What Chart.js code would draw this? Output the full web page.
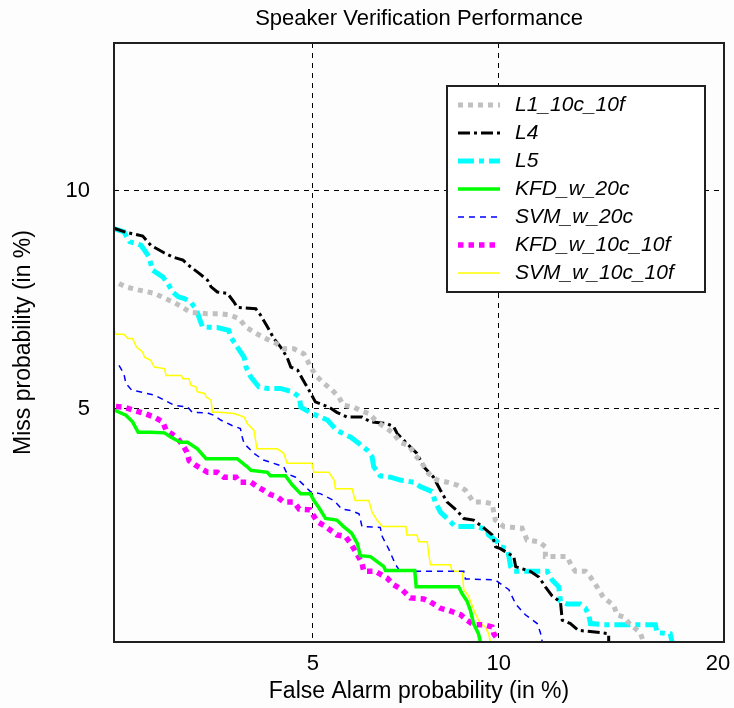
<!DOCTYPE html>
<html>
<head>
<meta charset="utf-8">
<title>Speaker Verification Performance</title>
<script src="https://cdn.jsdelivr.net/npm/chart.js@4.4.1/dist/chart.umd.min.js"></script>
<style>
  html, body { margin: 0; padding: 0; background: #fdfdfd; }
  #wrap { width: 734px; height: 708px; }
</style>
</head>
<body>
<div id="wrap"><canvas id="det" width="734" height="708"></canvas></div>
<script>
// DET curve data, in % (false alarm, miss)
const xTicks = [5, 10, 20];
const yTicks = [5, 10];
const xRange = [2.1, 20];
const yRange = [2.1, 15.03];

const seriesNames = ['L1_10c_10f', 'L4', 'L5', 'KFD_w_20c', 'SVM_w_20c', 'KFD_w_10c_10f', 'SVM_w_10c_10f'];

const l1 = [[2.15,7.55],[2.22,7.47],[2.35,7.4],[2.53,7.32],[2.65,7.21],[2.78,7.1],[2.9,6.97],[2.98,6.89],[3.2,6.86],[3.39,6.86],[3.54,6.83],[3.68,6.75],[3.79,6.57],[3.92,6.46],[4.12,6.33],[4.3,6.23],[4.44,6.12],[4.63,6.12],[4.82,6.02],[4.89,5.89],[4.95,5.76],[5.09,5.57],[5.23,5.45],[5.4,5.33],[5.54,5.21],[5.65,5.06],[5.88,5.03],[6.03,4.97],[6.23,4.92],[6.39,4.81],[6.56,4.72],[6.68,4.67],[6.85,4.59],[7.02,4.45],[7.25,4.4],[7.43,4.25],[7.61,4.13],[7.8,3.98],[8.04,3.89],[8.34,3.86],[8.64,3.82],[8.9,3.75],[9.16,3.59],[9.49,3.59],[9.77,3.57],[9.88,3.36],[10.17,3.28],[10.82,3.26],[11.0,3.12],[11.44,3.1],[11.69,3.04],[11.69,2.93],[12.54,2.93],[12.74,2.82],[12.88,2.77],[13.3,2.77],[13.51,2.71],[13.79,2.61],[14.08,2.5],[14.52,2.43],[14.67,2.34],[14.97,2.32],[15.28,2.25],[15.74,2.18],[15.89,2.1]];

const l4 = [[2.1,8.95],[2.22,8.84],[2.4,8.74],[2.49,8.5],[2.65,8.3],[2.75,8.2],[2.88,8.12],[2.98,7.95],[3.09,7.8],[3.21,7.63],[3.26,7.47],[3.35,7.35],[3.5,7.32],[3.6,7.12],[3.65,7.0],[3.95,6.97],[4.03,6.83],[4.15,6.57],[4.26,6.33],[4.38,6.16],[4.5,5.95],[4.57,5.76],[4.7,5.7],[4.79,5.54],[4.92,5.33],[5.05,5.12],[5.33,5.03],[5.5,4.94],[5.73,4.86],[6.07,4.86],[6.27,4.78],[6.68,4.75],[6.85,4.7],[6.94,4.59],[7.2,4.43],[7.47,4.28],[7.66,4.08],[7.94,3.93],[8.14,3.75],[8.34,3.59],[8.64,3.48],[8.85,3.38],[9.16,3.36],[9.44,3.28],[9.77,3.18],[9.89,3.04],[10.05,3.02],[10.52,2.93],[10.59,2.82],[11.12,2.77],[11.44,2.71],[11.69,2.61],[11.95,2.52],[12.28,2.46],[12.35,2.29],[12.68,2.26],[13.0,2.2],[13.93,2.18],[14.3,2.17],[14.3,2.1]];

const l5 = [[2.1,8.94],[2.2,8.85],[2.26,8.59],[2.38,8.5],[2.42,8.37],[2.47,8.2],[2.51,7.87],[2.63,7.71],[2.69,7.55],[2.75,7.35],[2.82,7.24],[2.9,7.2],[2.98,7.12],[3.05,6.97],[3.09,6.79],[3.14,6.57],[3.35,6.56],[3.52,6.5],[3.55,6.36],[3.65,6.16],[3.76,5.95],[3.79,5.76],[3.87,5.57],[4.0,5.39],[4.15,5.36],[4.38,5.36],[4.6,5.3],[4.73,5.21],[4.76,5.03],[4.98,4.92],[5.3,4.81],[5.5,4.64],[5.81,4.53],[6.0,4.43],[6.19,4.33],[6.31,4.23],[6.35,4.08],[6.51,3.95],[6.77,3.93],[7.02,3.89],[7.38,3.86],[7.56,3.8],[7.9,3.73],[7.99,3.59],[8.14,3.46],[8.34,3.38],[8.59,3.28],[9.27,3.28],[9.6,3.24],[9.65,3.18],[9.94,3.1],[10.05,3.04],[10.29,3.02],[10.35,2.93],[10.41,2.82],[10.52,2.77],[11.76,2.77],[11.95,2.68],[12.21,2.61],[12.28,2.47],[12.55,2.44],[13.08,2.44],[13.3,2.4],[13.44,2.34],[13.51,2.26],[14.08,2.25],[16.46,2.25],[16.54,2.18],[17.19,2.17],[17.28,2.1]];

const kfd20 = [[2.1,4.98],[2.22,4.89],[2.29,4.78],[2.35,4.61],[2.49,4.61],[2.65,4.6],[2.73,4.53],[2.85,4.45],[2.94,4.45],[3.07,4.35],[3.19,4.2],[3.65,4.2],[3.81,4.08],[3.87,4.03],[4.15,4.0],[4.2,3.95],[4.47,3.95],[4.6,3.82],[4.76,3.7],[4.95,3.7],[5.02,3.61],[5.12,3.52],[5.26,3.38],[5.5,3.36],[5.65,3.28],[5.83,3.2],[5.96,3.08],[6.03,2.94],[6.27,2.93],[6.6,2.82],[6.64,2.78],[7.41,2.78],[7.45,2.61],[8.69,2.61],[8.8,2.54],[8.95,2.47],[9.06,2.38],[9.16,2.26],[9.32,2.17],[9.38,2.1]];

const svm20 = [[2.15,5.79],[2.2,5.63],[2.22,5.45],[2.28,5.33],[2.42,5.28],[2.53,5.24],[2.65,5.15],[2.77,5.06],[2.94,5.03],[3.0,4.94],[3.21,4.93],[3.3,4.89],[3.4,4.81],[3.57,4.72],[3.7,4.67],[3.73,4.53],[3.76,4.43],[3.92,4.28],[4.08,4.18],[4.26,4.13],[4.44,4.08],[4.5,3.98],[4.66,3.93],[4.79,3.84],[4.89,3.77],[4.95,3.73],[5.16,3.7],[5.44,3.61],[5.61,3.5],[5.81,3.48],[6.0,3.44],[6.07,3.28],[6.51,3.27],[6.56,3.16],[6.74,3.0],[6.9,2.84],[7.02,2.77],[8.85,2.77],[8.9,2.69],[9.88,2.68],[10.11,2.63],[10.35,2.58],[10.59,2.44],[10.94,2.34],[11.38,2.26],[11.5,2.18],[11.57,2.1]];

const kfd1010 = [[2.12,5.04],[2.2,5.03],[2.31,4.97],[2.42,4.92],[2.53,4.86],[2.63,4.78],[2.67,4.64],[2.8,4.53],[2.88,4.4],[2.93,4.3],[2.96,4.17],[3.05,4.1],[3.21,4.0],[3.35,4.0],[3.45,3.93],[3.63,3.93],[3.68,3.86],[3.87,3.86],[3.97,3.8],[4.08,3.75],[4.2,3.69],[4.32,3.66],[4.44,3.59],[4.63,3.59],[4.73,3.5],[4.94,3.49],[5.09,3.34],[5.26,3.28],[5.5,3.18],[5.69,3.16],[5.81,3.08],[5.88,3.02],[6.07,2.86],[6.11,2.77],[6.39,2.77],[6.68,2.7],[6.85,2.63],[7.07,2.58],[7.29,2.5],[7.66,2.49],[7.85,2.46],[8.14,2.4],[8.39,2.38],[8.75,2.34],[8.95,2.29],[9.16,2.25],[9.49,2.25],[9.77,2.23],[9.83,2.17],[10.0,2.11]];

const svm1010 = [[2.1,6.53],[2.12,6.42],[2.2,6.42],[2.24,6.33],[2.29,6.33],[2.33,6.16],[2.4,6.05],[2.42,5.95],[2.49,5.89],[2.53,5.76],[2.65,5.73],[2.67,5.6],[2.86,5.6],[2.88,5.54],[2.96,5.54],[2.98,5.42],[3.05,5.39],[3.07,5.3],[3.17,5.27],[3.19,5.21],[3.26,5.15],[3.28,4.94],[3.39,4.94],[3.6,4.92],[3.76,4.86],[3.81,4.75],[3.92,4.64],[3.97,4.35],[4.32,4.35],[4.44,4.28],[4.5,4.13],[4.98,4.13],[5.02,4.0],[5.33,4.0],[5.44,3.89],[5.47,3.77],[5.84,3.77],[5.91,3.61],[6.23,3.61],[6.31,3.46],[6.43,3.36],[6.56,3.28],[7.17,3.28],[7.2,3.18],[7.47,3.18],[7.52,3.1],[7.76,3.1],[7.8,2.96],[7.85,2.84],[8.44,2.84],[8.49,2.77],[8.8,2.77],[8.85,2.58],[9.0,2.52],[9.11,2.43],[9.22,2.35],[9.32,2.29],[9.44,2.25],[9.54,2.23],[9.66,2.17],[9.71,2.1]];

const FONT = "Arial, 'Liberation Sans', Helvetica, sans-serif";

// normal deviate (inverse normal cdf), Acklam approximation
function probit(p) {
    const a = [-39.69683028665376, 220.9460984245205, -275.9285104469687, 138.3577518672690, -30.66479806614716, 2.506628277459239];
    const b = [-54.47609879822406, 161.5858368580409, -155.6989798598866, 66.80131188771972, -13.28068155288572];
    const c = [-0.007784894002430293, -0.3223964580411365, -2.400758277161838, -2.549732539343734, 4.374664141464968, 2.938163982698783];
    const d = [0.007784695709041462, 0.3224671290700398, 2.445134137142996, 3.754408661907416];
    const plow = 0.02425;
    let q, r;
    if (p < plow) {
        q = Math.sqrt(-2 * Math.log(p));
        return (((((c[0]*q+c[1])*q+c[2])*q+c[3])*q+c[4])*q+c[5]) / ((((d[0]*q+d[1])*q+d[2])*q+d[3])*q+1);
    }
    if (p <= 1 - plow) {
        q = p - 0.5; r = q * q;
        return (((((a[0]*r+a[1])*r+a[2])*r+a[3])*r+a[4])*r+a[5])*q / (((((b[0]*r+b[1])*r+b[2])*r+b[3])*r+b[4])*r+1);
    }
    q = Math.sqrt(-2 * Math.log(1 - p));
    return -(((((c[0]*q+c[1])*q+c[2])*q+c[3])*q+c[4])*q+c[5]) / ((((d[0]*q+d[1])*q+d[2])*q+d[3])*q+1);
}

// DET axis: percent values placed on a normal-deviate scale
class ProbitScale extends Chart.Scale {
    determineDataLimits() {
        const r = this.axis === 'x' ? xRange : yRange;
        this.min = r[0];
        this.max = r[1];
    }
    buildTicks() {
        const t = this.axis === 'x' ? xTicks : yTicks;
        return t.map(v => ({ value: v }));
    }
    configure() {
        super.configure();
        this._zmin = probit(this.min / 100);
        this._zmax = probit(this.max / 100);
    }
    getPixelForValue(v) {
        if (v === null || v === undefined || isNaN(v)) return NaN;
        const dec = (probit(v / 100) - this._zmin) / (this._zmax - this._zmin);
        return this.getPixelForDecimal(dec);
    }
    getValueForPixel(px) {
        const dec = this.getDecimalForPixel(px);
        const z = this._zmin + dec * (this._zmax - this._zmin);
        let lo = 0.0001, hi = 0.9999;
        for (let i = 0; i < 50; i++) {
            const mid = (lo + hi) / 2;
            if (probit(mid) < z) lo = mid; else hi = mid;
        }
        return lo * 100;
    }
    getLabelForValue(v) { return String(v); }
}
ProbitScale.id = 'probit';
ProbitScale.defaults = {};
Chart.register(ProbitScale);

function toPts(arr) { return arr.map(p => ({ x: p[0], y: p[1] })); }

const styles = [
    { color: '#c0c0c0', width: 5, dash: [5, 5] },
    { color: '#000000', width: 3, dash: [12, 4, 3, 4] },
    { color: '#00ffff', width: 5, dash: [16, 5, 5, 5] },
    { color: '#00ff00', width: 3.5, dash: [] },
    { color: '#0000ff', width: 1.5, dash: [6, 5] },
    { color: '#ff00ff', width: 5.5, dash: [5.5, 5] },
    { color: '#ffff00', width: 1.5, dash: [] }
];
const seriesData = [l1, l4, l5, kfd20, svm20, kfd1010, svm1010];

const datasets = seriesNames.map((name, i) => ({
    label: name,
    data: toPts(seriesData[i]),
    borderColor: styles[i].color,
    borderWidth: styles[i].width,
    borderDash: styles[i].dash,
    borderCapStyle: 'butt',
    borderJoinStyle: 'miter',
    pointRadius: 0,
    tension: 0,
    fill: false
}));

// box, title and matlab-style legend
const detFrame = {
    id: 'detFrame',
    afterDatasetsDraw(chart) {
        const { ctx, chartArea: a } = chart;
        ctx.save();
        ctx.strokeStyle = '#202020';
        ctx.lineWidth = 2;
        ctx.setLineDash([]);
        ctx.strokeRect(a.left, a.top, a.right - a.left, a.bottom - a.top);
        ctx.restore();
    },
    afterDraw(chart) {
        const { ctx, chartArea: a } = chart;
        ctx.save();
        ctx.fillStyle = '#000';
        ctx.font = '22px ' + FONT;
        ctx.textAlign = 'center';
        ctx.textBaseline = 'middle';
        ctx.fillText('Speaker Verification Performance', (a.left + a.right) / 2, 19);

        // legend box
        const bx = a.right - 277, by = a.top + 43, bw = 258, bh = 206;
        ctx.fillStyle = '#ffffff';
        ctx.fillRect(bx, by, bw, bh);
        ctx.strokeStyle = '#202020';
        ctx.lineWidth = 2;
        ctx.strokeRect(bx, by, bw, bh);
        ctx.font = 'italic 21px ' + FONT;
        ctx.textAlign = 'left';
        chart.data.datasets.forEach((ds, i) => {
            const y = by + 19 + i * 28;
            ctx.beginPath();
            ctx.strokeStyle = ds.borderColor;
            ctx.lineWidth = ds.borderWidth;
            ctx.lineCap = 'butt';
            ctx.setLineDash(ds.borderDash);
            ctx.moveTo(bx + 11, y);
            ctx.lineTo(bx + 53, y);
            ctx.stroke();
            ctx.setLineDash([]);
            ctx.fillStyle = '#000';
            ctx.fillText(ds.label, bx + 68, y);
        });
        ctx.restore();
    }
};

const axisFont = { family: FONT, size: 22 };
const titleFont = { family: FONT, size: 23 };

new Chart(document.getElementById('det'), {
    type: 'line',
    data: { datasets },
    options: {
        responsive: false,
        animation: false,
        devicePixelRatio: 1,
        layout: { padding: { top: 43, right: 10, left: 0, bottom: 0 } },
        plugins: {
            legend: { display: false },
            title: { display: false },
            tooltip: { enabled: false }
        },
        scales: {
            x: {
                type: 'probit',
                position: 'bottom',
                grid: { color: '#000', lineWidth: 1, drawTicks: false },
                border: { display: false, dash: [5, 5] },
                // last label sits inside the right edge, like the original
                ticks: { color: '#000', font: axisFont, padding: 9, maxRotation: 0, autoSkip: false, callback: v => v === 20 ? '20  ' : String(v) },
                title: { display: true, text: 'False Alarm probability (in %)', color: '#000', font: titleFont, padding: { top: 0, bottom: 3 } },
                afterFit: s => { s.height = 66; s.paddingLeft = 0; s.paddingRight = 0; }
            },
            y: {
                type: 'probit',
                position: 'left',
                grid: { color: '#000', lineWidth: 1, drawTicks: false },
                border: { display: false, dash: [5, 5] },
                ticks: { color: '#000', font: axisFont, padding: 24, autoSkip: false, callback: v => String(v) },
                title: { display: true, text: 'Miss probability (in %)', color: '#000', font: titleFont, padding: { top: 10, bottom: 0 } },
                afterFit: s => { s.width = 114; s.paddingTop = 0; s.paddingBottom = 0; }
            }
        }
    },
    plugins: [detFrame]
});
</script>
</body>
</html>
